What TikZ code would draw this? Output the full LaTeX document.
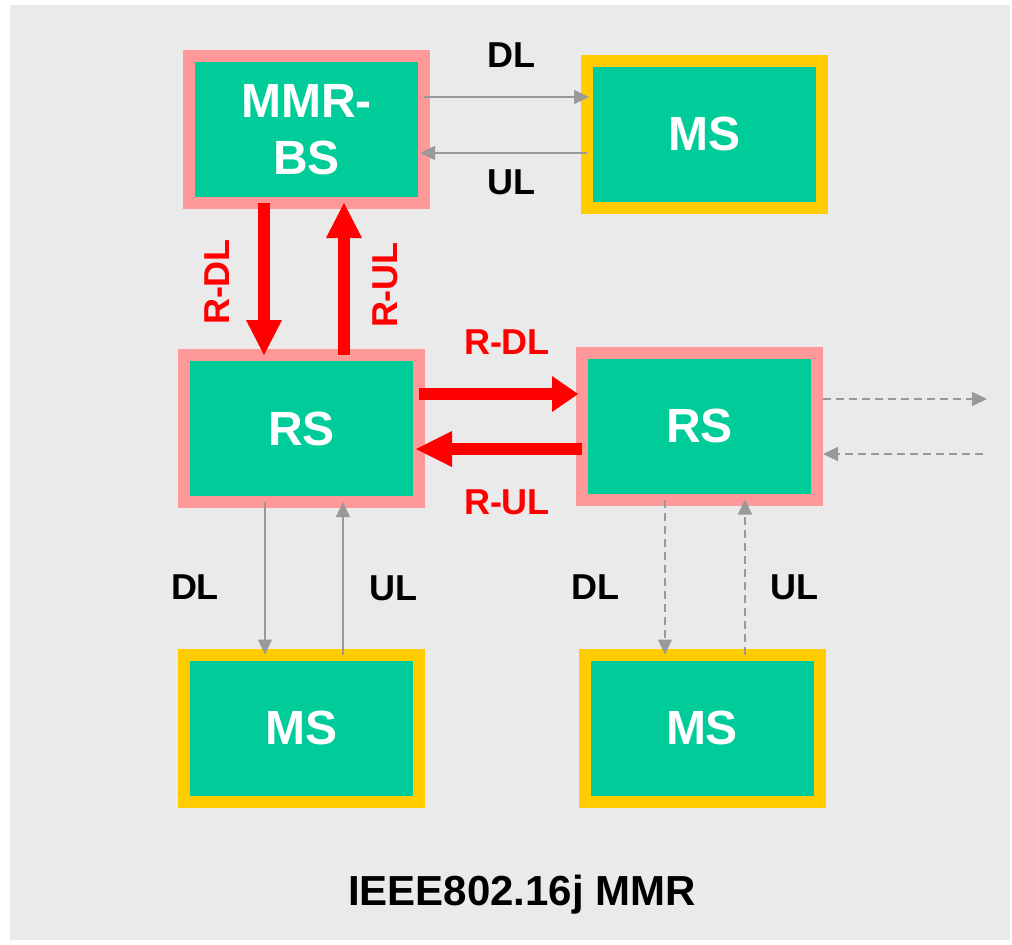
\documentclass[tikz,border=0pt]{standalone}
\usepackage{fontspec}
\setmainfont{Liberation Sans}
\usetikzlibrary{arrows.meta,calc}
\definecolor{bggray}{HTML}{EAEAEA}
\definecolor{boxgreen}{HTML}{00CC99}
\definecolor{relaypink}{HTML}{FF9999}
\definecolor{msyellow}{HTML}{FFCC00}
\definecolor{linkgray}{HTML}{999999}
\definecolor{relayred}{HTML}{FF0000}
\begin{document}
\begin{tikzpicture}[x=1pt,y=-1pt,
 box/.style={rectangle, fill=boxgreen, line width=12pt, minimum width=235pt, minimum height=147pt, inner sep=0pt, outer sep=0pt, text=white, font=\fontsize{48}{57}\selectfont\bfseries, align=center},
 relaybox/.style={box, draw=relaypink},
 msbox/.style={box, draw=msyellow},
 glink/.style={draw=linkgray, line width=1.5pt, -{Triangle[length=15pt,width=14pt]}},
 glinkdash/.style={glink, dash pattern=on 8pt off 5pt},
 rlink/.style={draw=relayred, line width=12pt},
 lbl/.style={font=\fontsize{36}{40}\selectfont\bfseries, inner sep=0pt},
 rlbl/.style={lbl, text=relayred}
]
\useasboundingbox (0,0) rectangle (1012,945);
\fill[bggray] (10,5) rectangle (1010,940);

\node[relaybox] (mmr) at (306.5,129.5) {MMR-\\BS};
\node[msbox] (ms1) at (704.5,134) {MS};
\node[relaybox] (rs1) at (301.5,428.5) {RS};
\node[relaybox] (rs2) at (699.5,426) {RS};
\node[msbox] (ms2) at (301.5,728) {MS};
\node[msbox] (ms3) at (702,728) {MS};

\coordinate (outR) at (987,399);
\coordinate (inR) at (983,454);

% MMR-BS <-> MS
\draw[glink] (mmr.east |- 0,97) -- ($(ms1.west |- 0,97)+(2,0)$);
\draw[glink] (ms1.west |- 0,153) -- ($(mmr.east |- 0,153)+(-4,0)$);

% MMR-BS <-> RS
\draw[rlink, -{Triangle[length=35pt,width=36pt,line width=0pt]}] (mmr.south -| 264,0) -- (rs1.north -| 264,0);
\draw[rlink, -{Triangle[length=35pt,width=36pt,line width=0pt]}] (rs1.north -| 344,0) -- (mmr.south -| 344,0);

% RS <-> RS
\draw[rlink, -{Triangle[length=26pt,width=36pt,line width=0pt]}] (rs1.east |- 0,394) -- ($(rs2.west |- 0,394)+(-4,0)$);
\draw[rlink, -{Triangle[length=36pt,width=36pt,line width=0pt]}] (rs2.west |- 0,449) -- ($(rs1.east |- 0,449)+(-3,0)$);

% RS2 outwards
\draw[glinkdash] ($(rs2.east |- 0,399)+(6,0)$) -- (outR);
\draw[glinkdash] (inR) -- ($(rs2.east |- 0,454)+(6,0)$);

% RS <-> MS
\draw[glink] (rs1.south -| 265,0) -- (ms2.north -| 265,0);
\draw[glink] (ms2.north -| 343,0) -- (rs1.south -| 343,0);
\draw[glinkdash] (rs2.south -| 665,0) -- (ms3.north -| 665,0);
\draw[glinkdash] (ms3.north -| 745,0) -- (rs2.south -| 745,0);

% labels
\node[lbl] (dl1) at (511,55) {DL};
\node[lbl] (ul1) at (511,182) {UL};
\node[rlbl, rotate=90] (rdl1) at (217.5,282) {R-DL};
\node[rlbl, rotate=90] (rul1) at (385.5,285) {R-UL};
\node[rlbl] (rdl2) at (507,342) {R-DL};
\node[rlbl] (rul2) at (507,502) {R-UL};
\node[lbl] (dl2) at (195,587) {DL};
\node[lbl] (ul2) at (393,588) {UL};
\node[lbl] (dl3) at (595,587) {DL};
\node[lbl] (ul3) at (794,587) {UL};
\node[font=\fontsize{42}{48}\selectfont\bfseries, anchor=base, inner sep=0pt] (title) at (522,905) {IEEE802.16j MMR};
\end{tikzpicture}
\end{document}
